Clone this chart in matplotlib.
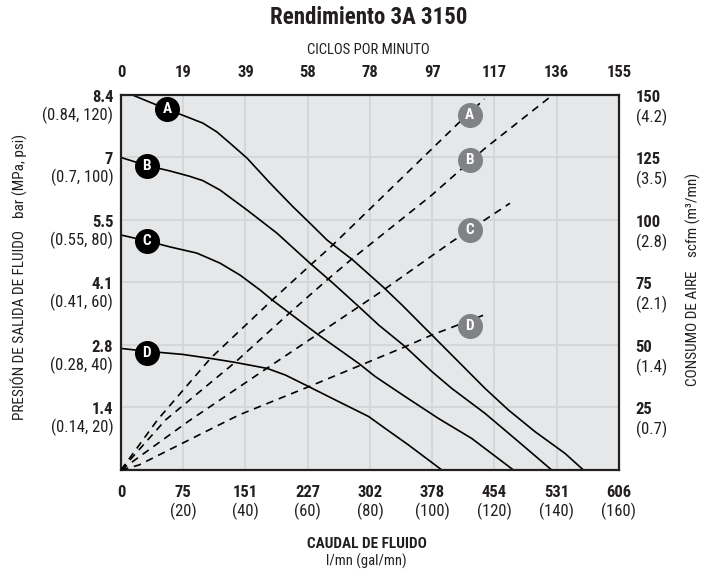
"""Rendimiento 3A 3150 - pump performance curves"""
import matplotlib
matplotlib.use('Agg')
import matplotlib.pyplot as plt

plt.rcParams['font.family'] = ['Roboto Condensed', 'DejaVu Sans']

BG = '#E6E7E8'
GRID = '#D1D3D4'
GRAY = '#808285'
INK = '#231F20'

# axis ticks (flow in gal/mn, pressure in psi, air in scfm)
gal_ticks = [0, 20, 40, 60, 80, 100, 120, 140, 160]
lmn_labels = ['0', '75', '151', '227', '302', '378', '454', '531', '606']
gal_labels = ['', '(20)', '(40)', '(60)', '(80)', '(100)', '(120)', '(140)', '(160)']
cpm_labels = ['0', '19', '39', '58', '78', '97', '117', '136', '155']

psi_ticks = [20, 40, 60, 80, 100, 120]
bar_labels = ['1.4', '2.8', '4.1', '5.5', '7', '8.4']
mpa_labels = ['(0.14, 20)', '(0.28, 40)', '(0.41, 60)', '(0.55, 80)', '(0.7, 100)', '(0.84, 120)']

scfm_ticks = [25, 50, 75, 100, 125, 150]
scfm_labels = ['25', '50', '75', '100', '125', '150']
m3_labels = ['(0.7)', '(1.4)', '(2.1)', '(2.8)', '(3.5)', '(4.2)']

# fluid outlet pressure curves (solid)
A_gal = [0, 14.9, 21.2, 26.3, 30.8, 35, 40.5, 47.9, 55.3, 60.7, 66.2, 74.5, 84.2, 90.3,
         95.6, 99.9, 106.3, 117, 124.5, 133, 142.7, 148.6]
A_psi = [121.5, 115.4, 113, 111, 108.2, 104.6, 99.8, 91.8, 84.2, 79, 73.6, 67.2, 58.6, 52.8,
         47.5, 43.2, 36.8, 26.1, 19.2, 12.3, 5.3, 0]
B_gal = [0, 8.4, 15.7, 22, 26.3, 31.8, 40.5, 50.1, 60.7, 68.1, 76.4, 82.8, 91.3, 99.9,
         106.3, 117, 127.7, 138.4]
B_psi = [100, 97.4, 95.7, 94, 92.6, 89.6, 83.2, 75.8, 66.2, 59.8, 52.3, 46.4, 39.5, 31.5,
         26.1, 18.1, 9.1, 0]
C_gal = [0, 8.7, 15.7, 24.4, 31.8, 38.2, 44.7, 48.6, 53.9, 63.5, 76.4, 81.7, 91.3, 102,
         112.7, 126.1]
C_psi = [75.2, 73.2, 71.4, 69.4, 66.2, 62.4, 57.6, 54.4, 50.4, 43.2, 34.1, 29.9, 23.5, 16.5,
         10.1, 0]
D_gal = [0, 8.2, 19.7, 28.8, 36.3, 47, 52.8, 60.3, 68.9, 79.6, 84.9, 92.4, 103.1]
D_psi = [38.9, 38.0, 37, 35.7, 34.5, 32.5, 30.4, 26.7, 22.4, 17.1, 13.3, 8, 0]

# air consumption curves (dashed)
Aa_gal = [0, 11.7, 28.8, 48.6, 60.9, 67.8, 108.4, 116.8]
Aa_scfm = [0, 20, 44.7, 68, 82, 89.7, 138.7, 148.4]
Ba_gal = [0, 14.3, 36.8, 53.9, 66.2, 73.7, 99.9, 117, 138.3]
Ba_scfm = [0, 20, 43.2, 62.5, 76, 83.9, 110, 128.7, 149.6]
Ca_gal = [0, 21.8, 46.9, 76.4, 83.9, 106.3, 125]
Ca_scfm = [0, 19.6, 40.7, 65.3, 71.6, 91.3, 106.7]
Da_gal = [0, 5.8, 18.6, 37.9, 60.3, 76.4, 91.3, 99.9, 117.5]
Da_scfm = [0, 2, 10, 22, 33.3, 41.6, 49.3, 54, 62.4]

curve_names = ['A', 'B', 'C', 'D']
label_gal = [14.9, 8.2, 8.2, 8.2]
label_psi = [115.4, 97.3, 73.3, 37.5]
air_label_gal = [112, 112, 112, 112]
air_label_scfm = [142, 124, 96, 57.7]

fig = plt.figure(figsize=(7.13, 5.74), dpi=100)
ax = fig.add_axes([0.1697, 0.1812, 0.6983, 0.6533])
ax.set_facecolor(BG)
ax.set_xlim(0, 160)
ax.set_ylim(0, 120)
ax.set_xticks(gal_ticks)
ax.set_yticks(psi_ticks)
ax.tick_params(length=0, labelbottom=False, labelleft=False)
ax.grid(True, color=GRID, linewidth=1.2)
ax.set_axisbelow(True)
for s in ax.spines.values():
    s.set_linewidth(1.6)
    s.set_color(INK)
    s.set_zorder(10)

ax2 = ax.twinx()
ax2.set_ylim(0, 150)
ax2.set_yticks([])
for s in ax2.spines.values():
    s.set_visible(False)

solid = [(A_gal, A_psi), (B_gal, B_psi), (C_gal, C_psi), (D_gal, D_psi)]
for g, p in solid:
    ax.plot(g, p, color='black', linewidth=1.2, solid_joinstyle='round')
dashed = [(Aa_gal, Aa_scfm), (Ba_gal, Ba_scfm), (Ca_gal, Ca_scfm), (Da_gal, Da_scfm)]
for g, q in dashed:
    ax2.plot(g, q, color='black', linewidth=1.2, linestyle=(0, (4.5, 3.5)))

for name, g, p in zip(curve_names, label_gal, label_psi):
    ax.plot(g, p, 'o', markersize=17, color='black', zorder=5)
    ax.text(g, p, name, color='white', fontsize=11, fontweight='bold',
            ha='center', va='center', zorder=6)
for name, g, q in zip(curve_names, air_label_gal, air_label_scfm):
    ax2.plot(g, q, 'o', markersize=17, color=GRAY, zorder=5)
    ax2.text(g, q, name, color='white', fontsize=11, fontweight='bold',
             ha='center', va='center', zorder=6)

# bottom tick labels (l/mn bold, gal/mn below)
xt = ax.get_xaxis_transform()
for g, lab, sub in zip(gal_ticks, lmn_labels, gal_labels):
    ax.annotate(lab, (g, 0), xycoords=xt, xytext=(0, -16.5), textcoords='offset points',
                ha='center', va='center', fontsize=12, fontweight='bold', color=INK)
    ax.annotate(sub, (g, 0), xycoords=xt, xytext=(0, -30), textcoords='offset points',
                ha='center', va='center', fontsize=12, color=INK)
# top tick labels (cycles per minute)
for g, lab in zip(gal_ticks, cpm_labels):
    ax.annotate(lab, (g, 1), xycoords=xt, xytext=(0, 16), textcoords='offset points',
                ha='center', va='center', fontsize=12, fontweight='bold', color=INK)

# left tick labels
yt = ax.get_yaxis_transform()
for p, lab, sub in zip(psi_ticks, bar_labels, mpa_labels):
    ax.annotate(lab, (0, p), xycoords=yt, xytext=(-5.5, -1.8), textcoords='offset points',
                ha='right', va='center', fontsize=12, fontweight='bold', color=INK)
    ax.annotate(sub, (0, p), xycoords=yt, xytext=(-5.5, -14.5), textcoords='offset points',
                ha='right', va='center', fontsize=12, color=INK)
# right tick labels
yt2 = ax2.get_yaxis_transform()
for q, lab, sub in zip(scfm_ticks, scfm_labels, m3_labels):
    ax2.annotate(lab, (1, q), xycoords=yt2, xytext=(12, -1.5), textcoords='offset points',
                 ha='left', va='center', fontsize=12, fontweight='bold', color=INK)
    ax2.annotate(sub, (1, q), xycoords=yt2, xytext=(12, -16), textcoords='offset points',
                 ha='left', va='center', fontsize=12, color=INK)

fig.text(0.5175, 0.969, 'Rendimiento 3A 3150', ha='center', va='center',
         fontsize=16.5, fontweight='bold', color=INK)
fig.text(0.516, 0.913, 'CICLOS POR MINUTO', ha='center', va='center', fontsize=10.5, color=INK)
fig.text(0.514, 1 - 543.5 / 574, 'CAUDAL DE FLUIDO', ha='center', va='center',
         fontsize=11, fontweight='bold', color=INK)
fig.text(0.514, 1 - 561 / 574, 'l/mn (gal/mn)', ha='center', va='center', fontsize=10.5, color=INK)
fig.text(0.028, 1 - 325 / 574, 'PRESIÓN DE SALIDA DE FLUIDO', rotation=90,
         ha='center', va='center', fontsize=11, color=INK)
fig.text(0.028, 1 - 176 / 574, 'bar (MPa, psi)', rotation=90,
         ha='center', va='center', fontsize=11, color=INK)
fig.text(0.972, 1 - 328 / 574, 'CONSUMO DE AIRE', rotation=90,
         ha='center', va='center', fontsize=11, color=INK)
fig.text(0.972, 1 - 215 / 574, 'scfm (m³/mn)', rotation=90,
         ha='center', va='center', fontsize=11, color=INK)

fig.savefig('out.png', dpi=100)
